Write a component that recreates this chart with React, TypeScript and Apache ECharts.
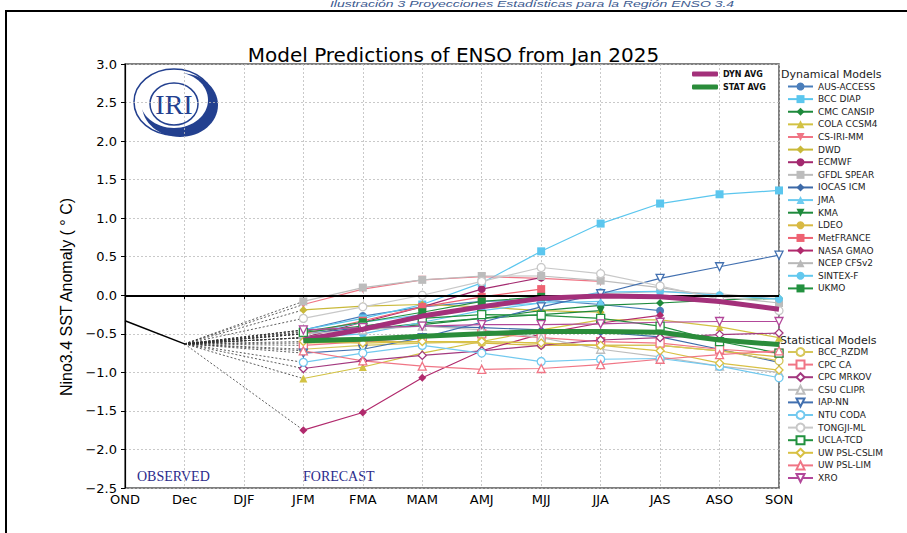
import React, { useEffect, useRef } from "react";
import * as echarts from "echarts";

const CATEGORIES = ["OND", "Dec", "DJF", "JFM", "FMA", "MAM", "AMJ", "MJJ", "JJA", "JAS", "ASO", "SON"];
const OBSERVED = [-0.33, -0.63];

// Dynamical models (JFM .. SON)
const AUS_ACCESS = [-0.45, -0.27, -0.15, -0.08, -0.06, -0.12, -0.2, null, null];
const BCC_DIAP = [-0.45, -0.3, -0.12, 0.16, 0.57, 0.93, 1.19, 1.31, 1.36];
const CMC_CANSIP = [-0.55, -0.45, -0.36, -0.3, -0.2, -0.13, -0.1, -0.06, -0.04];
const COLA_CCSM4 = [-1.08, -0.93, -0.75, -0.6, -0.45, -0.32, -0.32, -0.41, -0.55];
const CS_IRI_MM = [-0.12, 0.08, 0.2, 0.24, 0.22, 0.18, null, null, null];
const DWD = [-0.19, -0.14, -0.12, -0.15, -0.2, -0.22, null, null, null];
const ECMWF = [-0.55, -0.35, -0.15, 0.08, 0.23, null, null, null, null];
const GFDL_SPEAR = [-0.08, 0.1, 0.2, 0.25, 0.25, 0.19, 0.1, -0.02, -0.1];
const IOCAS_ICM = [-0.5, -0.42, -0.4, -0.42, -0.45, -0.48, -0.54, -0.7, -0.87];
const JMA = [-0.5, -0.35, -0.25, -0.15, -0.1, -0.08, null, null, null];
const KMA = [-0.55, -0.45, -0.38, -0.3, -0.25, -0.2, null, null, null];
const LDEO = [-0.62, -0.6, -0.6, -0.62, -0.65, -0.65, -0.65, -0.72, -0.8];
const MET_FRANCE = [-0.5, -0.33, -0.15, -0.02, 0.08, null, null, null, null];
const NASA_GMAO = [-1.75, -1.52, -1.07, -0.72, -0.5, -0.36, -0.26, null, null];
const NCEP_CFSV2 = [-0.55, -0.45, -0.3, -0.15, -0.05, 0.02, 0.05, 0.02, -0.05];
const SINTEX_F = [-0.55, -0.5, -0.35, -0.2, -0.1, 0.04, 0.05, 0.0, -0.05];
const UKMO = [-0.47, -0.35, -0.22, -0.08, -0.02, null, null, null, null];

// Statistical models (JFM .. SON)
const BCC_RZDM = [-0.7, -0.65, -0.62, -0.6, -0.62, -0.65, -0.65, -0.72, -0.85];
const CPC_CA = [-0.65, -0.6, -0.55, -0.5, -0.55, -0.6, -0.62, -0.7, -0.75];
const CPC_MRKOV = [-0.95, -0.85, -0.78, -0.72, -0.65, -0.58, -0.55, -0.51, -0.49];
const CSU_CLIPR = [-0.5, -0.45, -0.4, -0.45, -0.55, -0.7, -0.8, -0.92, -1.0];
const IAP_NN = [-0.75, -0.7, -0.55, -0.35, -0.15, 0.02, 0.22, 0.37, 0.52];
const NTU_CODA = [-0.87, -0.75, -0.65, -0.75, -0.86, -0.83, -0.82, -0.92, -1.07];
const TONGJI_ML = [-0.3, -0.15, 0.0, 0.18, 0.36, 0.28, 0.12, -0.05, -0.2];
const UCLA_TCD = [-0.48, -0.4, -0.3, -0.25, -0.26, -0.3, -0.4, -0.6, -0.75];
const UW_PSL_CSLIM = [-0.6, -0.62, -0.6, -0.6, -0.62, -0.65, -0.72, -0.88, -0.97];
const UW_PSL_LIM = [-0.72, -0.85, -0.92, -0.96, -0.95, -0.9, -0.83, -0.77, -0.72];
const XRO = [-0.45, -0.42, -0.4, -0.38, -0.38, -0.37, -0.35, -0.34, -0.34];

const DYN_AVG = [-0.58, -0.44, -0.27, -0.15, -0.04, -0.01, -0.02, -0.08, -0.18];
const STAT_AVG = [-0.59, -0.57, -0.53, -0.5, -0.47, -0.47, -0.48, -0.58, -0.64];

const DOWN = "path://M0,0L10,0L5,9Z";

const DYN_MODELS = [
  { name: "AUS-ACCESS", values: AUS_ACCESS, color: "#4a7ebb", symbol: "circle" },
  { name: "BCC DIAP", values: BCC_DIAP, color: "#5bc6ee", symbol: "rect" },
  { name: "CMC CANSIP", values: CMC_CANSIP, color: "#1e8a3c", symbol: "diamond" },
  { name: "COLA CCSM4", values: COLA_CCSM4, color: "#d2c243", symbol: "triangle" },
  { name: "CS-IRI-MM", values: CS_IRI_MM, color: "#f07585", symbol: DOWN },
  { name: "DWD", values: DWD, color: "#c9b93a", symbol: "diamond" },
  { name: "ECMWF", values: ECMWF, color: "#a3296f", symbol: "circle" },
  { name: "GFDL SPEAR", values: GFDL_SPEAR, color: "#bcbcbc", symbol: "rect" },
  { name: "IOCAS ICM", values: IOCAS_ICM, color: "#3d6aa8", symbol: "diamond" },
  { name: "JMA", values: JMA, color: "#6ccbf0", symbol: "triangle" },
  { name: "KMA", values: KMA, color: "#1e8a3c", symbol: DOWN },
  { name: "LDEO", values: LDEO, color: "#d8b943", symbol: "circle" },
  { name: "MetFRANCE", values: MET_FRANCE, color: "#ee6272", symbol: "rect" },
  { name: "NASA GMAO", values: NASA_GMAO, color: "#b12a6d", symbol: "diamond" },
  { name: "NCEP CFSv2", values: NCEP_CFSV2, color: "#b8b8b8", symbol: "triangle" },
  { name: "SINTEX-F", values: SINTEX_F, color: "#62c8ee", symbol: "circle" },
  { name: "UKMO", values: UKMO, color: "#22913f", symbol: "rect" },
];

const STAT_MODELS = [
  { name: "BCC_RZDM", values: BCC_RZDM, color: "#d6c65a", symbol: "circle" },
  { name: "CPC CA", values: CPC_CA, color: "#f07585", symbol: "rect" },
  { name: "CPC MRKOV", values: CPC_MRKOV, color: "#a3397f", symbol: "diamond" },
  { name: "CSU CLIPR", values: CSU_CLIPR, color: "#bdbdbd", symbol: "triangle" },
  { name: "IAP-NN", values: IAP_NN, color: "#4270b0", symbol: DOWN },
  { name: "NTU CODA", values: NTU_CODA, color: "#72c9ef", symbol: "circle" },
  { name: "TONGJI-ML", values: TONGJI_ML, color: "#c8c8c8", symbol: "circle" },
  { name: "UCLA-TCD", values: UCLA_TCD, color: "#22913f", symbol: "rect" },
  { name: "UW PSL-CSLIM", values: UW_PSL_CSLIM, color: "#d8c043", symbol: "diamond" },
  { name: "UW PSL-LIM", values: UW_PSL_LIM, color: "#f07585", symbol: "triangle" },
  { name: "XRO", values: XRO, color: "#b2479a", symbol: DOWN },
];

const pad = (v: (number | null)[]) => [null, null, null, ...v];
const fmt = (v: number) => (v < 0 ? "\u2212" + Math.abs(v).toFixed(1) : v.toFixed(1));
const NAVY = "#23408f";

export default function App() {
  const ref = useRef<HTMLDivElement>(null);
  useEffect(() => {
    if (!ref.current) return;
    const chart = echarts.init(ref.current, null, { renderer: "svg" });
    const all = [...DYN_MODELS, ...STAT_MODELS];
    const connectors = all.map((m) => ({
      type: "line",
      data: [null, OBSERVED[1], null, m.values[0], null, null, null, null, null, null, null, null],
      connectNulls: true,
      symbol: "none",
      silent: true,
      lineStyle: { color: "#333", width: 0.8, type: [2, 2] },
      z: 2,
    }));
    const modelSeries = all.map((m, i) => {
      const hollow = i >= DYN_MODELS.length;
      return {
        type: "line",
        name: m.name,
        data: pad(m.values),
        symbol: m.symbol,
        symbolSize: 8,
        showSymbol: true,
        lineStyle: { color: m.color, width: 1.2 },
        itemStyle: hollow
          ? { color: "#fff", borderColor: m.color, borderWidth: 1.3 }
          : { color: m.color, borderColor: m.color, borderWidth: 0 },
        z: 3,
      };
    });
    const legendText = { fontSize: 9, fontFamily: "DejaVu Sans", color: "#222", lineHeight: 9 };
    const option = {
      animation: false,
      backgroundColor: "#fff",
      title: {
        text: "Model Predictions of ENSO from Jan 2025",
        left: "center",
        top: 40,
        textStyle: { fontSize: 20, fontFamily: "DejaVu Sans", fontWeight: "normal", color: "#000" },
      },
      grid: { left: 125, right: 128, top: 64, bottom: 45, show: true, borderColor: "#555", borderWidth: 1.5 },
      xAxis: {
        type: "category",
        data: CATEGORIES,
        boundaryGap: false,
        axisLine: { lineStyle: { color: "#444", width: 1.2 } },
        axisTick: { show: true, length: 4, lineStyle: { color: "#000" } },
        axisLabel: { color: "#000", fontSize: 13, fontFamily: "DejaVu Sans", margin: 5 },
        splitLine: { show: true, lineStyle: { color: "#bbb", type: [2, 2], width: 0.8 } },
      },
      yAxis: {
        type: "value",
        min: -2.5,
        max: 3,
        interval: 0.5,
        axisLine: { show: true, lineStyle: { color: "#000", width: 1.2 } },
        axisTick: { show: true, length: 4, lineStyle: { color: "#000" } },
        axisLabel: { color: "#000", fontSize: 13, fontFamily: "DejaVu Sans", margin: 8, formatter: fmt },
        splitLine: { show: true, lineStyle: { color: "#bbb", type: [2, 2], width: 0.8 } },
      },
      legend: [
        {
          data: ["DYN AVG", "STAT AVG"],
          orient: "vertical",
          left: 692,
          top: 70,
          padding: 0,
          itemWidth: 26,
          itemHeight: 5,
          itemGap: 5,
          icon: "roundRect",
          selectedMode: false,
          textStyle: { fontSize: 8, fontWeight: "bold", fontFamily: "DejaVu Sans", color: "#111", lineHeight: 8 },
        },
        {
          data: DYN_MODELS.map((m) => m.name),
          orient: "vertical",
          left: 787,
          top: 82,
          padding: 0,
          itemWidth: 25,
          itemHeight: 10,
          itemGap: 3.62,
          selectedMode: false,
          textStyle: legendText,
        },
        {
          data: STAT_MODELS.map((m) => m.name),
          orient: "vertical",
          left: 787,
          top: 347,
          padding: 0,
          itemWidth: 25,
          itemHeight: 10,
          itemGap: 2.6,
          selectedMode: false,
          textStyle: legendText,
        },
      ],
      graphic: [
        {
          type: "text",
          x: 532,
          y: 0,
          scaleY: 0.6,
          style: {
            text: "Ilustración 3 Proyecciones Estadísticas para la Región ENSO 3.4",
            font: "italic 14px 'Liberation Sans'",
            fill: "#3c5a8f",
            textAlign: "center",
            textVerticalAlign: "top",
          },
        },
        {
          type: "rect",
          shape: { x: 6, y: 11, width: 1000, height: 1000 },
          style: { fill: "none", stroke: "#000", lineWidth: 2 },
          silent: true,
        },
        {
          type: "text",
          x: 66,
          y: 297,
          rotation: Math.PI / 2,
          style: {
            text: "Nino3.4 SST Anomaly ( \u00B0 C)",
            font: "16px 'Liberation Sans'",
            fill: "#000",
            textAlign: "center",
            textVerticalAlign: "middle",
          },
        },
        {
          type: "text",
          x: 137,
          y: 476,
          style: { text: "OBSERVED", font: "14px 'Liberation Serif'", fill: "#2b2b8c", textVerticalAlign: "middle" },
        },
        {
          type: "text",
          x: 303,
          y: 476,
          style: { text: "FORECAST", font: "14px 'Liberation Serif'", fill: "#2b2b8c", textVerticalAlign: "middle" },
        },
        {
          type: "text",
          x: 781,
          y: 74,
          style: { text: "Dynamical Models", font: "11px 'DejaVu Sans'", fill: "#222", textVerticalAlign: "middle" },
        },
        {
          type: "text",
          x: 780,
          y: 340,
          style: { text: "Statistical Models", font: "11px 'DejaVu Sans'", fill: "#222", textVerticalAlign: "middle" },
        },
        {
          type: "group",
          children: [
            { type: "ellipse", shape: { cx: 180, cy: 105, rx: 38, ry: 32 }, style: { fill: NAVY } },
            { type: "ellipse", shape: { cx: 174, cy: 100, rx: 34, ry: 28 }, style: { fill: "#fff" } },
            { type: "ellipse", shape: { cx: 174, cy: 102, rx: 40, ry: 33 }, style: { fill: "none", stroke: NAVY, lineWidth: 1.5 } },
            { type: "ellipse", shape: { cx: 174, cy: 104, rx: 24, ry: 21 }, style: { fill: "none", stroke: NAVY, lineWidth: 1.5 } },
            {
              type: "text",
              x: 174,
              y: 104,
              style: { text: "IRI", font: "28px 'Liberation Serif'", fill: NAVY, textAlign: "center", textVerticalAlign: "middle" },
            },
          ],
        },
      ],
      series: [
        {
          type: "line",
          data: [OBSERVED[0], OBSERVED[1], null, null, null, null, null, null, null, null, null, null],
          symbol: "none",
          lineStyle: { color: "#000", width: 1.5 },
          z: 4,
          markLine: {
            silent: true,
            symbol: ["none", "none"],
            label: { show: false },
            lineStyle: { color: "#000", width: 2, type: "solid" },
            data: [{ yAxis: 0 }],
          },
        },
        ...connectors,
        ...modelSeries,
        {
          type: "line",
          name: "DYN AVG",
          data: pad(DYN_AVG),
          symbol: "none",
          lineStyle: { color: "#a3307a", width: 5 },
          itemStyle: { color: "#a3307a" },
          z: 6,
        },
        {
          type: "line",
          name: "STAT AVG",
          data: pad(STAT_AVG),
          symbol: "none",
          lineStyle: { color: "#2a8c3a", width: 5 },
          itemStyle: { color: "#2a8c3a" },
          z: 6,
        },
      ],
    };
    chart.setOption(option as any);
    return () => chart.dispose();
  }, []);
  return (
    <div
      ref={ref}
      style={{ position: "fixed", left: 0, top: 0, width: 907, height: 533, background: "#fff" }}
    />
  );
}
